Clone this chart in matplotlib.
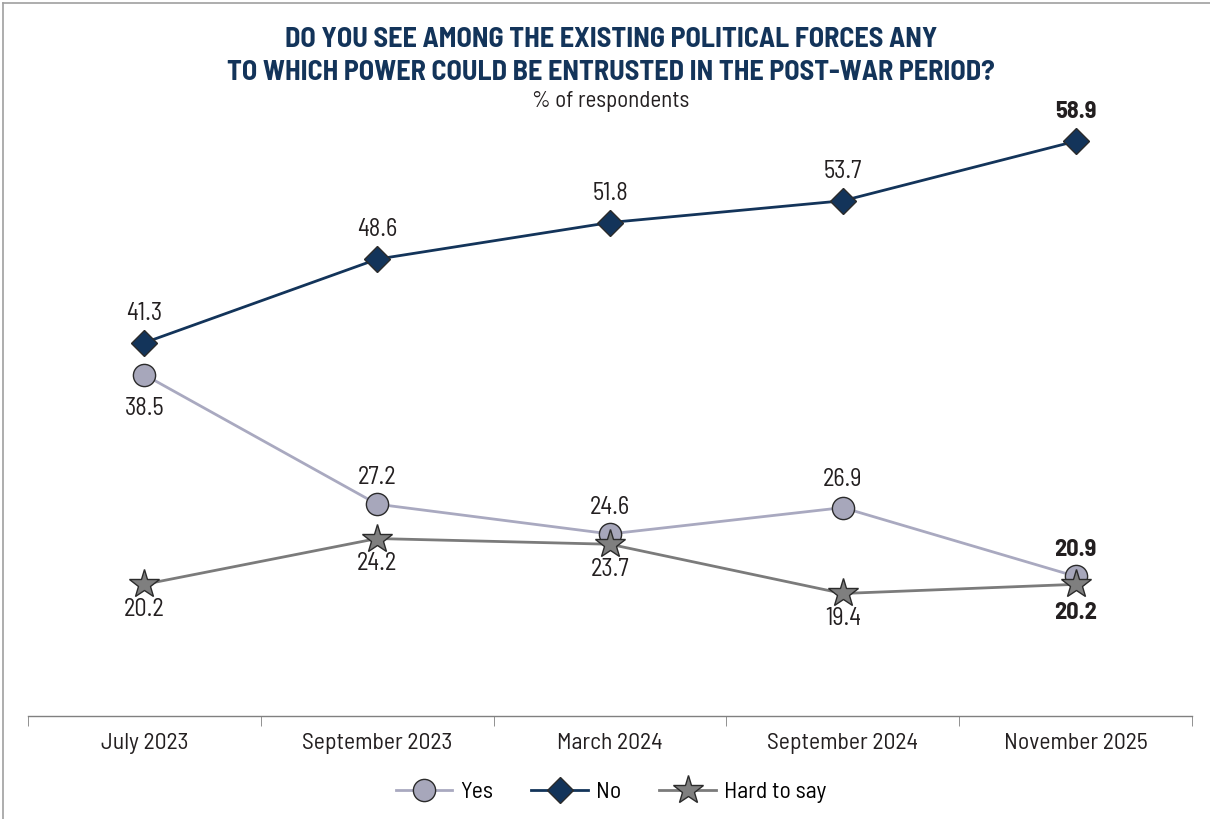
import matplotlib
matplotlib.use("Agg")
import matplotlib.pyplot as plt
from matplotlib.lines import Line2D
from matplotlib import font_manager as fm

names = {f.name for f in fm.fontManager.ttflist}
fams = [n for n in ['Barlow Semi Condensed', 'Roboto Condensed', 'DejaVu Sans'] if n in names]
plt.rcParams['font.family'] = fams

categories = ["July 2023", "September 2023", "March 2024", "September 2024", "November 2025"]
yes_vals = [38.5, 27.2, 24.6, 26.9, 20.9]
no_vals = [41.3, 48.6, 51.8, 53.7, 58.9]
hard_vals = [20.2, 24.2, 23.7, 19.4, 20.2]

title = "DO YOU SEE AMONG THE EXISTING POLITICAL FORCES ANY\nTO WHICH POWER COULD BE ENTRUSTED IN THE POST-WAR PERIOD?"
subtitle = "% of respondents"

NAVY = "#13345a"
YES_LINE = "#a9a9c0"
YES_FILL = "#a7a7bb"
HARD_LINE = "#7b7b7b"
HARD_FILL = "#7f7f7f"
EDGE = "#2b2b2b"
TXT = "#231f20"

fig = plt.figure(figsize=(12.1, 8.19), dpi=100)
ax = fig.add_axes([28/1210, 1-716/819, (1192-28)/1210, (716-100)/819])
x = list(range(len(categories)))

ax.plot(x, yes_vals, color=YES_LINE, lw=2, marker='o', ms=16, mfc=YES_FILL, mec=EDGE, mew=1, zorder=3)
ax.plot(x, hard_vals, color=HARD_LINE, lw=2, marker='*', ms=22, mfc=HARD_FILL, mec=EDGE, mew=1, zorder=4)
ax.plot(x, no_vals, color=NAVY, lw=2, marker='D', ms=13, mfc=NAVY, mec=EDGE, mew=1, zorder=5)

ax.set_xlim(-0.5, 4.5)
ax.set_ylim(8.7, 62.5)

last = len(categories) - 1
def lab(i, v, dy):
    bold = (i == last)
    ax.annotate(f"{v:.1f}", (i, v), xytext=(0, dy), textcoords='offset points',
                ha='center', va='center', fontsize=17.5, color=TXT,
                fontweight='bold' if bold else 'normal', zorder=6)

for i, v in enumerate(no_vals):
    lab(i, v, 21)
yes_dy = [-24, 19, 19, 20, 19]
for i, v in enumerate(yes_vals):
    lab(i, v, yes_dy[i])
hard_dy = [-18, -18, -18, -18, -21]
for i, v in enumerate(hard_vals):
    lab(i, v, hard_dy[i])

for s in ['top', 'right', 'left']:
    ax.spines[s].set_visible(False)
ax.spines['bottom'].set_color('#808080')
ax.spines['bottom'].set_linewidth(1)
ax.set_yticks([])
ax.set_xticks(x)
ax.set_xticklabels(categories, fontsize=17, color=TXT)
ax.tick_params(axis='x', which='major', length=0, pad=12)
ax.set_xticks([i - 0.5 for i in range(len(categories) + 1)], minor=True)
ax.tick_params(axis='x', which='minor', length=7, color='#808080', direction='out')

fig.text(0.505, 1-56/819, title, ha='center', va='center', fontsize=20.3, fontweight='bold',
         color=NAVY, linespacing=1.42)
fig.text(0.505, 1-101/819, subtitle, ha='center', va='center', fontsize=16.5, color=TXT)

handles = [
    Line2D([], [], color=YES_LINE, lw=2, marker='o', ms=16, mfc=YES_FILL, mec=EDGE, mew=1),
    Line2D([], [], color=NAVY, lw=2, marker='D', ms=13, mfc=NAVY, mec=EDGE, mew=1),
    Line2D([], [], color=HARD_LINE, lw=2, marker='*', ms=22, mfc=HARD_FILL, mec=EDGE, mew=1),
]
fig.legend(handles, ["Yes", "No", "Hard to say"], loc='center', bbox_to_anchor=(0.505, 1-792/819),
           ncol=3, frameon=False, fontsize=17, handlelength=2.4, columnspacing=1.6, handletextpad=0.35)

fig.add_artist(Line2D([3/1210, 3/1210], [0, 1-3/819], color='#a0a0a0', lw=1.2, transform=fig.transFigure))
fig.add_artist(Line2D([3/1210, 1], [1-3/819, 1-3/819], color='#a0a0a0', lw=1.2, transform=fig.transFigure))

fig.savefig("out.png", dpi=100)
